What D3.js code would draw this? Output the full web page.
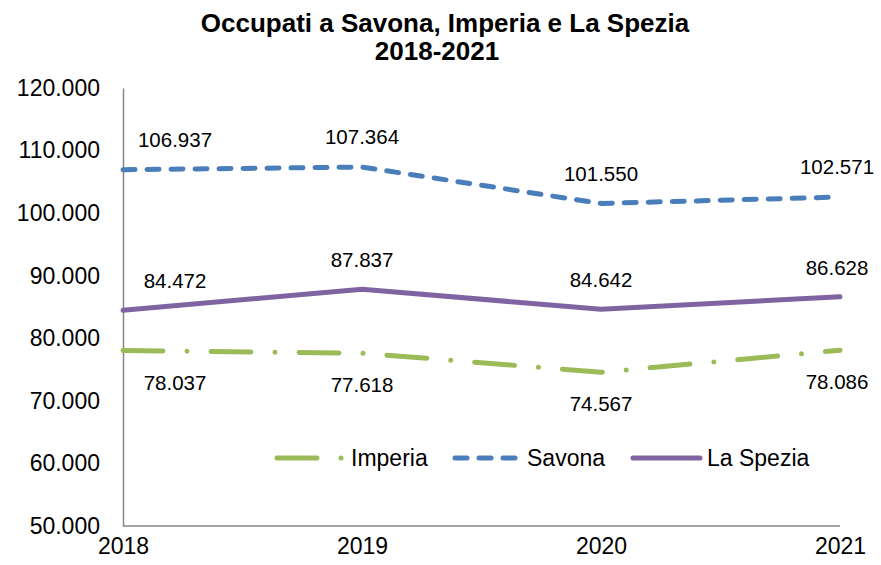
<!DOCTYPE html>
<html>
<head>
<meta charset="utf-8">
<script src="https://cdn.jsdelivr.net/npm/d3@7"></script>
<style>
  body { margin: 0; background: #fff; }
  text { font-family: "Liberation Sans", Arial, sans-serif; fill: #000; }
</style>
</head>
<body>
<script>
const years = ["2018", "2019", "2020", "2021"];
const imperia = [78037, 77618, 74567, 78086];
const savona = [106937, 107364, 101550, 102571];
const laSpezia = [84472, 87837, 84642, 86628];
const yTicks = [50000, 60000, 70000, 80000, 90000, 100000, 110000, 120000];

const width = 881;
const height = 565;
const axisColor = "#868686";

const it = d3.formatLocale({ decimal: ",", thousands: ".", grouping: [3], currency: ["", " €"] });
const fmt = it.format(",d");

const series = [
  { name: "Imperia", values: imperia, color: "#9BBB59", dash: "40,24,0.01,24", labelDy: 32 },
  { name: "Savona", values: savona, color: "#4A7EBB", dash: "12,12", labelDy: -30 },
  { name: "La Spezia", values: laSpezia, color: "#8064A2", dash: null, labelDy: -29 }
];

// data labels at the first year were nudged to the right in the original
const labelDx = [52, 0, 0, -3];

const x = d3.scalePoint().domain(years).range([123, 840]);
const y = d3.scaleLinear().domain([50000, 120000]).range([526, 88]);

const svg = d3.select("body").append("svg")
  .attr("width", width)
  .attr("height", height);

svg.append("text")
  .attr("x", 445).attr("y", 32)
  .attr("text-anchor", "middle")
  .attr("font-size", 26).attr("font-weight", "bold")
  .text("Occupati a Savona, Imperia e La Spezia");
svg.append("text")
  .attr("x", 437).attr("y", 60)
  .attr("text-anchor", "middle")
  .attr("font-size", 26).attr("font-weight", "bold")
  .text("2018-2021");

const yAxis = svg.append("g")
  .attr("transform", "translate(123,0)")
  .call(d3.axisLeft(y).tickValues(yTicks).tickFormat(fmt).tickSize(0).tickPadding(23));
yAxis.select(".domain").attr("stroke", axisColor).attr("stroke-width", 1.5);
yAxis.selectAll("text").attr("font-size", 23).attr("font-family", null);

const xAxis = svg.append("g")
  .attr("transform", "translate(0,526)")
  .call(d3.axisBottom(x).tickSize(0).tickPadding(12));
xAxis.select(".domain").attr("stroke", axisColor).attr("stroke-width", 1.5).attr("d", "M123,0H840");
xAxis.selectAll("text").attr("font-size", 23).attr("font-family", null);

const line = d3.line()
  .x((d, i) => x(years[i]))
  .y(d => y(d));

svg.append("g")
  .selectAll("path")
  .data(series)
  .join("path")
  .attr("d", d => line(d.values))
  .attr("fill", "none")
  .attr("stroke", d => d.color)
  .attr("stroke-width", 5)
  .attr("stroke-linecap", "round")
  .attr("stroke-linejoin", "round")
  .attr("stroke-dasharray", d => d.dash);

svg.append("g")
  .selectAll("g")
  .data(series)
  .join("g")
  .selectAll("text")
  .data(s => s.values.map((v, i) => ({ v, i, s })))
  .join("text")
  .attr("x", d => x(years[d.i]) + labelDx[d.i])
  .attr("y", d => y(d.v) + d.s.labelDy)
  .attr("dy", "0.35em")
  .attr("text-anchor", "middle")
  .attr("font-size", 20.5)
  .text(d => fmt(d.v));

// legend
const legendItems = [
  { s: series[0], x1: 277, x2: 345, tx: 351 },
  { s: series[1], x1: 455, x2: 515, tx: 527 },
  { s: series[2], x1: 633, x2: 700, tx: 707 }
];
const legend = svg.append("g");
legendItems.forEach(d => {
  legend.append("line")
    .attr("x1", d.x1).attr("x2", d.x2)
    .attr("y1", 458).attr("y2", 458)
    .attr("stroke", d.s.color)
    .attr("stroke-width", 5)
    .attr("stroke-linecap", "round")
    .attr("stroke-dasharray", d.s.dash);
  legend.append("text")
    .attr("x", d.tx).attr("y", 458)
    .attr("dy", "0.35em")
    .attr("font-size", 23)
    .text(d.s.name);
});
</script>
</body>
</html>
